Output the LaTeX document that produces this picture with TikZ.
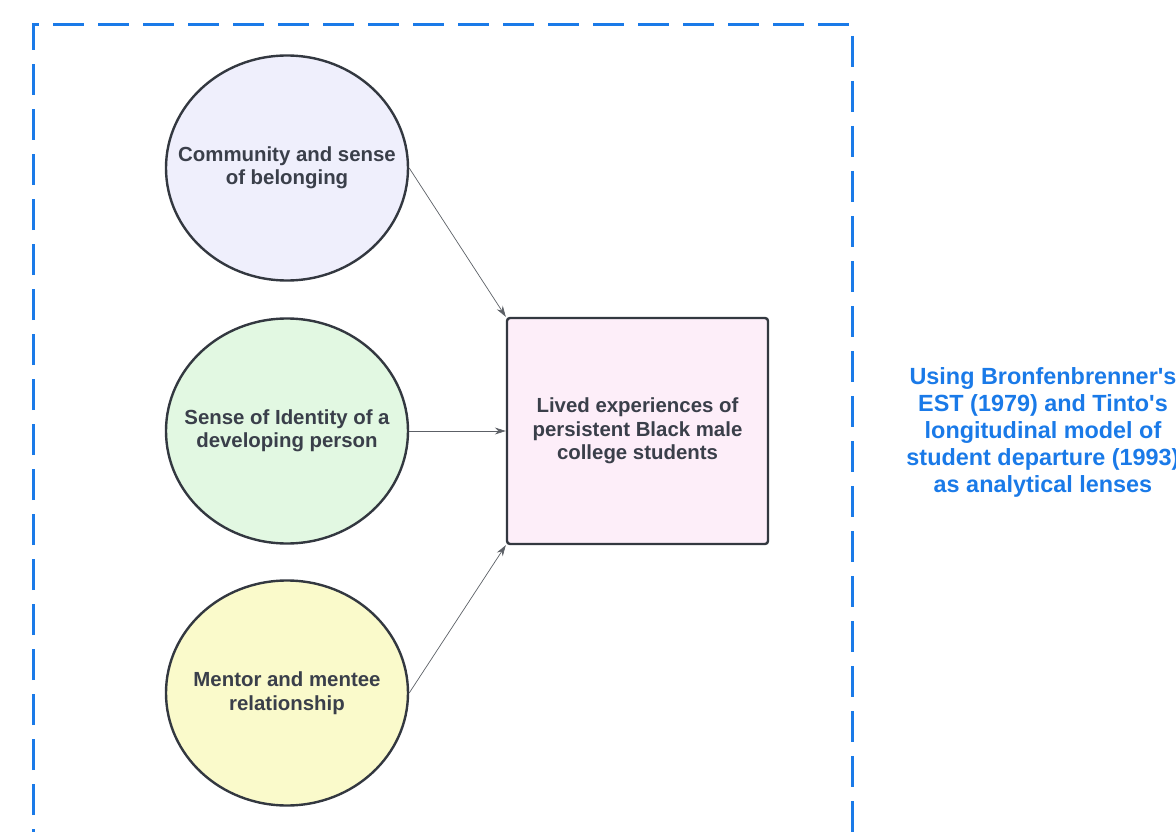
\documentclass[tikz,border=0pt]{standalone}
\usepackage{fontspec}
\setmainfont{Liberation Sans}
\usepackage{tikz}
\usetikzlibrary{arrows.meta, shapes.geometric, positioning}
\definecolor{inkgray}{HTML}{333840}
\definecolor{textgray}{HTML}{3A3F4A}
\definecolor{framblue}{HTML}{1A7AE8}
\definecolor{lavender}{HTML}{EFEFFC}
\definecolor{mintgreen}{HTML}{E2F8E2}
\definecolor{paleyellow}{HTML}{FAFACB}
\definecolor{palepink}{HTML}{FDEEF9}

\begin{document}
\begin{tikzpicture}[x=1pt, y=-1pt,
		factor/.style={ellipse, draw=inkgray, line width=2.4pt, minimum width=242pt, minimum height=225pt, inner sep=-40pt,
			align=center, text=textgray, font=\fontsize{20.4}{23.5}\selectfont\bfseries},
		outcome/.style={rectangle, rounded corners=3pt, draw=inkgray, line width=2.4pt, minimum width=261pt, minimum height=226pt,
			align=center, text=textgray, font=\fontsize{20.4}{23.5}\selectfont\bfseries},
		link/.style={draw=inkgray!80, line width=0.7pt, -{Stealth[length=11pt, width=7pt]}}]
		\useasboundingbox (0,0) rectangle (1176,832);
		% frame
		\draw [framblue, line width=3pt, dash pattern=on 31pt off 14pt] (33,860)--(33,25)--(852,25)--(852,860);
		
		% factors
		\node [factor, fill=lavender] (belong) at (287,168) {Community and sense\\of belonging};
		\node [factor, fill=mintgreen] (identity) at (287,431) {Sense of Identity of a\\developing person};
		\node [factor, fill=paleyellow] (mentor) at (287,693) {Mentor and mentee\\relationship};
		% outcome
		\node [outcome, fill=palepink] (lived) at (637.5,431) {Lived experiences of\\persistent Black male\\college students};
		% lens
		\node [align=center, text=framblue, font=\fontsize{23.4}{27}\selectfont\bfseries] (lens) at (1043,432)
			{Using Bronfenbrenner\textquotesingle s\\EST (1979) and Tinto\textquotesingle s\\longitudinal model of\\student departure (1993)\\as analytical lenses};
		% arrows
		\draw [link] (belong.east) -- (lived.north west);
		\draw [link] (identity.east) -- (lived.west);
		\draw [link] (mentor.east) -- (lived.south west);
	\end{tikzpicture}
\end{document}
